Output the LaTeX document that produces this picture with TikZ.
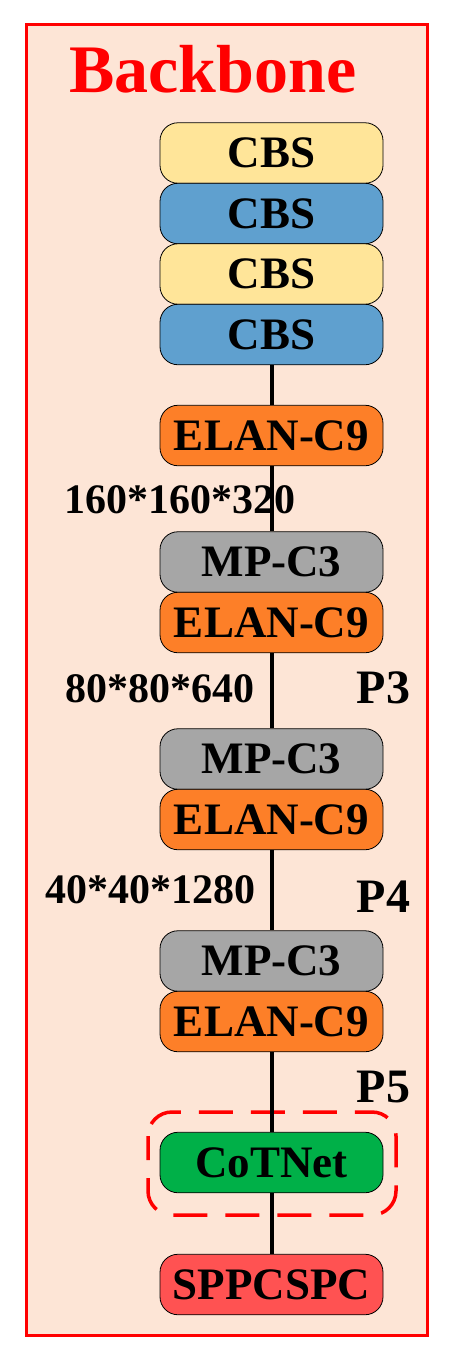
\documentclass[tikz,border=0pt]{standalone}
\usepackage{fontspec}
\setmainfont{Liberation Serif}
\usepackage{tikz}
\definecolor{bgpeach}{RGB}{253,229,214}
\definecolor{cbsyellow}{RGB}{255,229,153}
\definecolor{cbsblue}{RGB}{95,160,207}
\definecolor{elanorange}{RGB}{253,127,40}
\definecolor{mpgray}{RGB}{166,166,166}
\definecolor{cotgreen}{RGB}{0,176,72}
\definecolor{sppred}{RGB}{255,82,82}
\newcommand{\blkfont}{\fontsize{45}{45}\selectfont\bfseries}
\newcommand{\dimfont}{\fontsize{42}{42}\selectfont\bfseries}
\tikzset{
  blk/.style={draw=black, line width=0.8pt, rounded corners=18pt,
    minimum width=223pt, minimum height=60.5pt, inner sep=0pt, font=\blkfont},
  conn/.style={line width=4pt, black},
  dimlabel/.style={anchor=base, font=\dimfont},
  plabel/.style={anchor=base, font=\fontsize{48}{48}\selectfont\bfseries}
}

\begin{document}
\begin{tikzpicture}[x=1pt,y=-1pt]
\useasboundingbox (0,0) rectangle (456,1361);
% Draw the outer frame
\draw[red, line width=3pt, fill=bgpeach] (26,24) rectangle (427,1335);
% Title
\node[anchor=base, text=red, font=\fontsize{68}{68}\selectfont\bfseries] (title) at (213,92) {Backbone};
% Dashed box round CoTNet
\draw[red, line width=3.5pt, dash pattern=on 34pt off 18pt, dash phase=10pt, rounded corners=24pt] (148,1112) rectangle (396,1215);
% Stem blocks
\node[blk, fill=cbsyellow] (cbsA) at (271.5,153) {CBS};
\node[blk, fill=cbsblue] (cbsB) at (271.5,213.5) {CBS};
\node[blk, fill=cbsyellow] (cbsC) at (271.5,274) {CBS};
\node[blk, fill=cbsblue] (cbsD) at (271.5,334.5) {CBS};
% Stages
\node[blk, fill=elanorange] (elanA) at (271.5,435.5) {ELAN-C9};
\node[blk, fill=mpgray] (mpA) at (271.5,562) {MP-C3};
\node[blk, fill=elanorange] (elanB) at (271.5,622.5) {ELAN-C9};
\node[blk, fill=mpgray] (mpB) at (271.5,759) {MP-C3};
\node[blk, fill=elanorange] (elanC) at (271.5,819.5) {ELAN-C9};
\node[blk, fill=mpgray] (mpC) at (271.5,961) {MP-C3};
\node[blk, fill=elanorange] (elanD) at (271.5,1021.5) {ELAN-C9};
\node[blk, fill=cotgreen] (cot) at (271.5,1162.5) {CoTNet};
\node[blk, fill=sppred] (spp) at (271.5,1284.5) {SPPCSPC};
% Feature map sizes
\node[dimlabel] (dimA) at (179.5,513) {160*160*320};
\node[dimlabel] (dimB) at (159.5,702) {80*80*640};
\node[dimlabel] (dimC) at (150.5,903) {40*40*1280};
% Outputs
\node[plabel] (pthree) at (383.5,703) {P3};
\node[plabel] (pfour) at (383.5,912) {P4};
\node[plabel] (pfive) at (383.5,1102) {P5};
% Connectors
\draw[conn] (cbsD) -- (elanA);
\draw[conn] (elanA) -- (mpA);
\draw[conn] (elanB) -- (mpB);
\draw[conn] (elanC) -- (mpC);
\draw[conn] (elanD) -- (cot);
\draw[conn] (cot) -- (spp);
\end{tikzpicture}
\end{document}
